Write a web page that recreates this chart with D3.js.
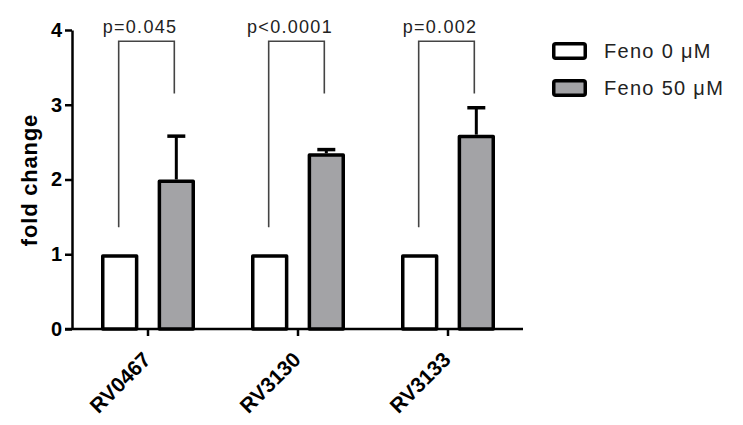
<!DOCTYPE html>
<html>
<head>
    <meta charset="utf-8">
    <style>
        body { margin: 0; background: #fff; }
        svg { font-family: Arial, "Liberation Sans", Helvetica, sans-serif; }
        .y .tick text { font-size: 20px; font-weight: bold; fill: #000; }
        .y .tick line, .y .domain, .x .domain, .x .tick line { stroke: #000; stroke-width: 2.5px; }
        .x .tick text { font-size: 21px; font-weight: bold; fill: #000; }
        .pval { font-size: 18px; letter-spacing: 1.3px; fill: #222; }
        .legend text { font-size: 20px; letter-spacing: 1.3px; fill: #222; }
    </style>
</head>
<body>
<svg width="743" height="425"></svg>

<script src="https://d3js.org/d3.v7.min.js"></script>
<script>
    // data
    let genes = ["RV0467", "RV3130", "RV3133"];
    let series = ["Feno 0 \u03bcM", "Feno 50 \u03bcM"];
    let control = [1, 1, 1];
    let treated = [2.0, 2.35, 2.6];
    let treatedErr = [0.58, 0.05, 0.36];
    let pvalues = ["p=0.045", "p<0.0001", "p=0.002"];
    let yTicks = [0, 1, 2, 3, 4];
    let bracketTop = 3.85;
    let bracketRight = 3.15;
    let bracketLeft = 1.36;

    let svg = d3.select("svg");
    let colors = ["#ffffff", "#a3a3a6"];

    let x = d3.scaleBand()
        .domain(genes)
        .range([73, 523]);

    let xSub = d3.scaleBand()
        .domain(series)
        .range([-47, 47])
        .paddingInner(0.34);

    let y = d3.scaleLinear()
        .domain([0, 4])
        .range([329, 30]);

    // y axis
    let yAxis = svg.append("g")
        .attr("class", "y axis")
        .attr("transform", "translate(72,0)")
        .call(d3.axisLeft(y).tickValues(yTicks).tickFormat(d3.format("d"))
            .tickSize(7).tickPadding(3).tickSizeOuter(0));

    // x axis
    let xAxis = svg.append("g")
        .attr("class", "x axis")
        .attr("transform", `translate(0,${y(0)})`)
        .call(d3.axisBottom(x).tickSize(7).tickSizeOuter(0));
    xAxis.select(".domain").attr("d", `M65,0H523`);
    xAxis.selectAll(".tick text")
        .attr("text-anchor", "end")
        .attr("dy", null)
        .attr("y", 0)
        .attr("transform", "translate(4,32) rotate(-45)");

    let sw = 3.5;

    let rows = genes.map((g, i) => ({
        gene: g,
        values: [control[i], treated[i]],
        err: treatedErr[i],
        p: pvalues[i]
    }));

    let groups = svg.append("g")
        .selectAll("g")
        .data(rows)
        .join("g")
        .attr("transform", d => `translate(${x(d.gene) + x.bandwidth() / 2},0)`);

    // brackets (behind bars)
    groups.append("path")
        .attr("d", d => {
            let l = xSub(series[0]) + xSub.bandwidth() / 2 - 1;
            let r = xSub(series[1]) + xSub.bandwidth() / 2 - 2;
            return `M${l},${y(bracketLeft)}V${y(bracketTop)}H${r}V${y(bracketRight)}`;
        })
        .attr("fill", "none")
        .attr("stroke", "#444")
        .attr("stroke-width", 1.6);

    groups.append("text")
        .attr("class", "pval")
        .attr("x", 0 - 8)
        .attr("y", 33)
        .attr("text-anchor", "middle")
        .text(d => d.p);

    // error bars
    groups.append("line")
        .attr("x1", xSub(series[1]) + xSub.bandwidth() / 2)
        .attr("x2", xSub(series[1]) + xSub.bandwidth() / 2)
        .attr("y1", d => y(d.values[1]))
        .attr("y2", d => y(d.values[1] + d.err))
        .attr("stroke", "#000")
        .attr("stroke-width", 3);
    groups.append("line")
        .attr("x1", xSub(series[1]) + xSub.bandwidth() / 2 - 9)
        .attr("x2", xSub(series[1]) + xSub.bandwidth() / 2 + 9)
        .attr("y1", d => y(d.values[1] + d.err))
        .attr("y2", d => y(d.values[1] + d.err))
        .attr("stroke", "#000")
        .attr("stroke-width", 3.5);

    // bars
    groups.selectAll("rect")
        .data(d => d.values.map((v, j) => ({ s: series[j], v: v, j: j })))
        .join("rect")
        .attr("x", d => xSub(d.s) + sw / 2)
        .attr("width", xSub.bandwidth() - sw)
        .attr("y", d => y(d.v) + sw / 2)
        .attr("height", d => y(0) - y(d.v) - sw / 2)
        .attr("fill", d => colors[d.j])
        .attr("stroke", "#000")
        .attr("stroke-width", sw)
        .attr("stroke-linejoin", "round");

    // y axis title
    svg.append("text")
        .attr("transform", "translate(37,180) rotate(-90)")
        .attr("text-anchor", "middle")
        .style("font-size", "22px")
        .style("font-weight", "bold")
        .style("letter-spacing", "0.8px")
        .text("fold change");

    // legend
    let legend = svg.append("g")
        .attr("class", "legend")
        .selectAll("g")
        .data(series)
        .join("g")
        .attr("transform", (d, i) => `translate(552,${42 + i * 37})`);
    legend.append("rect")
        .attr("x", sw / 2)
        .attr("y", sw / 2)
        .attr("width", 35 - sw)
        .attr("height", 18 - sw)
        .attr("rx", 2)
        .attr("fill", (d, i) => colors[i])
        .attr("stroke", "#000")
        .attr("stroke-width", sw);
    legend.append("text")
        .attr("x", 52)
        .attr("y", 9)
        .attr("dy", "0.36em")
        .text(d => d);
</script>
</body>
</html>
